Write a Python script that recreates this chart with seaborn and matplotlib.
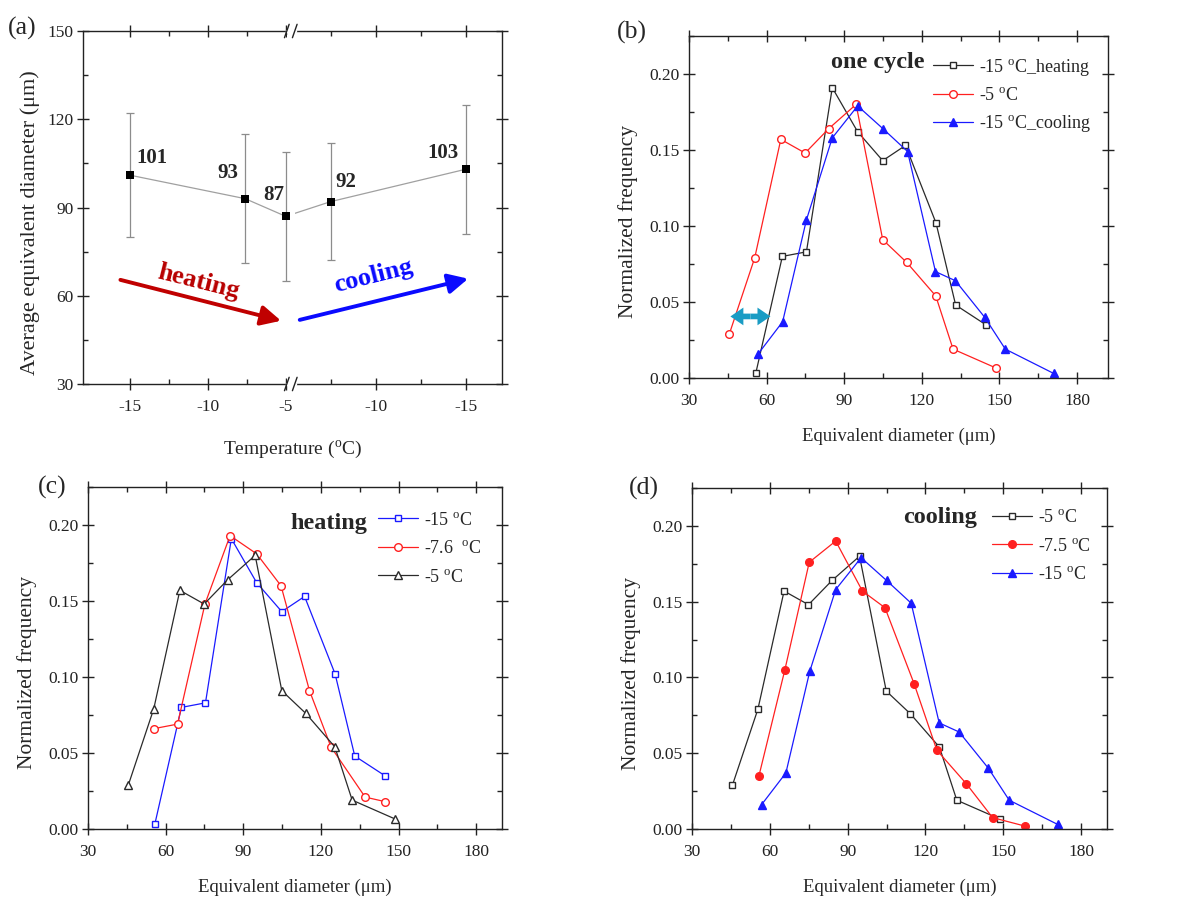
import numpy as np
import pandas as pd
import seaborn as sns
import matplotlib.pyplot as plt
import matplotlib.transforms as mtransforms
from matplotlib.ticker import MultipleLocator, FixedLocator, FormatStrFormatter

"""Data read off the figure"""

# (a) average diameter over one heating / cooling cycle
temp_a = [-15, -7.6, -5, -7.5, -15]
phase_a = ["heating", "heating", "heating", "cooling", "cooling"]
mean_a = [101, 93, 87, 92, 103]
err_a = [21, 22, 22, 20, 22]

# size distributions (diameter in um, normalized frequency)
d_heat15 = [55.8, 66.1, 75.4, 85.4, 95.2, 104.9, 113.7, 125.5, 133.1, 144.8]
f_heat15 = [0.003, 0.080, 0.083, 0.191, 0.162, 0.143, 0.153, 0.102, 0.048, 0.035]

d_5 = [45.6, 55.4, 65.5, 74.9, 84.0, 94.6, 104.9, 114.2, 125.4, 132.1, 148.8]
f_5 = [0.029, 0.079, 0.157, 0.148, 0.164, 0.180, 0.091, 0.076, 0.054, 0.019, 0.0065]

d_cool15 = [56.8, 66.2, 75.4, 85.4, 95.2, 105.0, 114.5, 125.3, 133.0, 144.3, 152.3, 171.0]
f_cool15 = [0.016, 0.037, 0.104, 0.158, 0.179, 0.164, 0.149, 0.070, 0.064, 0.040, 0.019, 0.003]

d_heat76 = [55.4, 64.6, 75.2, 84.9, 95.2, 104.6, 115.6, 123.9, 137.1, 144.8]
f_heat76 = [0.066, 0.069, 0.148, 0.193, 0.181, 0.160, 0.091, 0.054, 0.021, 0.018]

d_cool75 = [55.8, 65.8, 75.2, 85.4, 95.7, 104.4, 115.6, 124.4, 135.7, 145.9, 158.2]
f_cool75 = [0.035, 0.105, 0.176, 0.190, 0.157, 0.146, 0.096, 0.052, 0.030, 0.0075, 0.002]

tick_temps = [-15, -10, -5, -10, -15]
tick_phase = ["heating", "heating", "heating", "cooling", "cooling"]
minor_temps = [-12.5, -7.5, -7.5, -12.5]
minor_phase = ["heating", "heating", "cooling", "cooling"]

"""Style"""

sns.set_theme(style="ticks")
plt.rcParams["font.family"] = ["Liberation Serif", "DejaVu Serif"]
plt.rcParams["mathtext.fontset"] = "custom"
plt.rcParams["mathtext.rm"] = "Liberation Serif"
plt.rcParams["mathtext.it"] = "Liberation Serif:italic"
plt.rcParams["mathtext.bf"] = "Liberation Serif:bold"

DEG = r"$^{\mathrm{o}}$C"
BLACK = "#2a2a2a"
RED = "#ff2020"
BLUE = "#1a1aff"

# the cooling half of the broken axis is drawn a bit wider
K_COOL = 1.154


def tpos(t, phase):
    return t if phase == "heating" else -5 + (-5 - t) * K_COOL


def style_axes(ax):
    for s in ax.spines.values():
        s.set_visible(True)
        s.set_linewidth(1.0)
        s.set_color("#222222")
    ax.tick_params(which="major", direction="inout", length=8, width=1,
                   top=True, right=True, labelsize=12.5, pad=3, colors="#222222")
    ax.tick_params(axis="x", which="major", pad=6.5)
    ax.tick_params(which="minor", direction="in", length=3.5, width=1,
                   top=True, right=True, colors="#222222")


def dist_line(ax, x, y, color, marker, filled, label, ms):
    sns.lineplot(x=x, y=y, ax=ax, sort=False, estimator=None, color=color,
                 lw=0.9, marker=marker, markersize=ms,
                 markerfacecolor=color if filled else "white",
                 markeredgecolor=color, markeredgewidth=1.0, label=label)


def dist_axes(ax, xmax):
    style_axes(ax)
    ax.set_xlim(30, xmax)
    ax.set_ylim(0, 0.225)
    ax.xaxis.set_major_locator(MultipleLocator(30))
    ax.xaxis.set_minor_locator(MultipleLocator(15))
    ax.yaxis.set_major_locator(MultipleLocator(0.05))
    ax.yaxis.set_minor_locator(MultipleLocator(0.025))
    ax.yaxis.set_major_formatter(FormatStrFormatter("%.2f"))
    ax.set_xlabel("Equivalent diameter (\u03bcm)", fontsize=13.5, labelpad=14)
    ax.set_ylabel("Normalized frequency", fontsize=15.5, labelpad=8)
    ax.yaxis.label.set_y(0.457)


def dist_legend(ax, x0, y0, spacing=0.64):
    ax.legend(loc="upper left", bbox_to_anchor=(x0, y0), frameon=False,
              fontsize=13, handlelength=2.2, handletextpad=0.35,
              labelspacing=spacing, borderpad=0, borderaxespad=0)


fig = plt.figure(figsize=(11.79, 8.99), dpi=100)
W, H = 1179, 899


def px_axes(l, t, r, b):
    return fig.add_axes([l / W, 1 - b / H, (r - l) / W, (b - t) / H])


ax_a = px_axes(83, 31, 502, 384)
ax_b = px_axes(689, 36, 1108, 378)
ax_c = px_axes(88, 487, 502, 829)
ax_d = px_axes(692, 488, 1107, 829)

"""(a)"""

pos_a = [tpos(t, p) for t, p in zip(temp_a, phase_a)]
df_a = pd.DataFrame({"pos": pos_a, "mean": mean_a, "err": err_a})

sns.lineplot(data=df_a, x="pos", y="mean", ax=ax_a, sort=False, estimator=None,
             color="#a0a0a0", lw=0.9, zorder=2)
ax_a.errorbar(df_a["pos"], df_a["mean"], yerr=df_a["err"], fmt="none",
              ecolor="#8c8c8c", elinewidth=0.9, capsize=3, capthick=0.9, zorder=3.5)
ax_a.axvspan(-4.93, -4.38, ymin=0.01, ymax=0.99, color="white", lw=0, zorder=3)
sns.scatterplot(data=df_a, x="pos", y="mean", ax=ax_a, marker="s", s=28,
                color="black", edgecolor="black", linewidth=0, zorder=4)

offsets = [(22, 17), (-17, 26), (-12, 21), (15, 20), (-23, 16)]
for p, m, off in zip(pos_a, mean_a, offsets):
    ax_a.annotate(str(m), (p, m), xytext=off, textcoords="offset pixels",
                  ha="center", va="center", fontsize=15, fontweight="bold")

style_axes(ax_a)
ax_a.set_xlim(-18, 8.87)
ax_a.set_ylim(30, 150)
ax_a.xaxis.set_major_locator(FixedLocator([tpos(t, p) for t, p in zip(tick_temps, tick_phase)]))
ax_a.set_xticklabels([str(t) for t in tick_temps])
ax_a.xaxis.set_minor_locator(FixedLocator([tpos(t, p) for t, p in zip(minor_temps, minor_phase)]))
ax_a.yaxis.set_major_locator(MultipleLocator(30))
ax_a.yaxis.set_minor_locator(MultipleLocator(15))
ax_a.set_xlabel("Temperature (" + DEG + ")", fontsize=14, labelpad=17.5)
ax_a.set_ylabel("Average equivalent diameter (\u03bcm)", fontsize=16, labelpad=5)
ax_a.yaxis.label.set_y(0.456)

# axis break marks
trans = mtransforms.blended_transform_factory(ax_a.transData, ax_a.transAxes)
for yy in (0, 1):
    ax_a.plot([-4.93, -4.42], [yy, yy], color="white", lw=2.5, transform=trans,
              clip_on=False, zorder=5)
    for xs in (-4.93, -4.42):
        ax_a.plot([xs - 0.15, xs + 0.15], [yy - 0.019, yy + 0.019], color="#222222",
                  lw=1.0, transform=trans, clip_on=False, zorder=6)

# heating / cooling arrows
ax_a.annotate("", xy=(-5.3, 51.5), xytext=(-15.6, 65.4),
              arrowprops=dict(arrowstyle="-|>", lw=2.8, color="#c00000", mutation_scale=30,
                              shrinkA=0, shrinkB=0))
ax_a.annotate("", xy=(6.7, 65.8), xytext=(-4.1, 51.8),
              arrowprops=dict(arrowstyle="-|>", lw=2.8, color="#0a0aff", mutation_scale=30,
                              shrinkA=0, shrinkB=0))
ax_a.text(-10.6, 64.6, "heating", color="#b80000", fontsize=19, fontweight="bold",
          rotation=-14, ha="center", va="center")
ax_a.text(0.6, 66.6, "cooling", color="#0a0aff", fontsize=19, fontweight="bold",
          rotation=14, ha="center", va="center")

"""(b)"""

dist_line(ax_b, d_heat15, f_heat15, BLACK, "s", False, "-15 " + DEG + "_heating", ms=5)
dist_line(ax_b, d_5, f_5, RED, "o", False, "-5 " + DEG, ms=5.5)
dist_line(ax_b, d_cool15, f_cool15, BLUE, "^", True, "-15 " + DEG + "_cooling", ms=6.3)
dist_axes(ax_b, 192)
dist_legend(ax_b, 0.582, 0.94, spacing=0.52)
ax_b.text(0.563, 0.922, "one cycle", transform=ax_b.transAxes, ha="right", va="center",
          fontsize=17.5, fontweight="bold")
# double-headed marker of the shift between the -5 and -15 curves
mid = (46.0 + 61.5) / 2
for end in (46.0, 61.5):
    ax_b.annotate("", xy=(end, 0.0405), xytext=(mid, 0.0405),
                  arrowprops=dict(arrowstyle="simple,head_length=0.55,head_width=0.75,tail_width=0.24",
                                  lw=0, color="#1a9cc4", mutation_scale=17,
                                  shrinkA=0, shrinkB=0))

"""(c)"""

dist_line(ax_c, d_heat15, f_heat15, BLUE, "s", False, "-15 " + DEG, ms=5)
dist_line(ax_c, d_heat76, f_heat76, RED, "o", False, "-7.6  " + DEG, ms=5.5)
dist_line(ax_c, d_5, f_5, BLACK, "^", False, "-5 " + DEG, ms=6.3)
dist_axes(ax_c, 190)
dist_legend(ax_c, 0.70, 0.928)
ax_c.text(0.674, 0.893, "heating", transform=ax_c.transAxes, ha="right", va="center",
          fontsize=17.5, fontweight="bold")

"""(d)"""

dist_line(ax_d, d_5, f_5, BLACK, "s", False, "-5 " + DEG, ms=5)
dist_line(ax_d, d_cool75, f_cool75, RED, "o", True, "-7.5 " + DEG, ms=5.5)
dist_line(ax_d, d_cool15, f_cool15, BLUE, "^", True, "-15 " + DEG, ms=6.3)
dist_axes(ax_d, 190)
dist_legend(ax_d, 0.723, 0.938)
ax_d.text(0.687, 0.913, "cooling", transform=ax_d.transAxes, ha="right", va="center",
          fontsize=17.5, fontweight="bold")

"""Panel letters"""

for lbl, (x, y) in zip(["(a)", "(b)", "(c)", "(d)"], [(22, 28), (632, 32), (52, 487), (644, 488)]):
    fig.text(x / W, 1 - y / H, lbl, fontsize=18.5, ha="center", va="center")

fig.savefig("out.png", dpi=100)
